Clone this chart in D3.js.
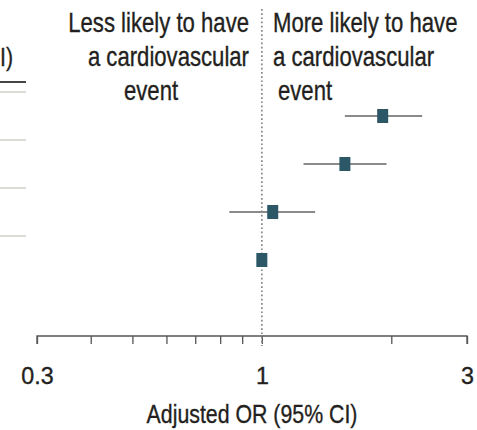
<!DOCTYPE html>
<html><head><meta charset="utf-8">
<script src="https://cdn.jsdelivr.net/npm/d3@7"></script>
<style>
html,body{margin:0;padding:0;background:#fff;}
text{font-family:"Liberation Sans",Arial,sans-serif;fill:#231f20;stroke:#231f20;stroke-width:0.35px;}
</style></head>
<body>
<script>
const categories = ["Group A", "Group B", "Group C", "Reference"];
const orValues = [1.91, 1.56, 1.06, 1.0];
const ciLow = [1.56, 1.25, 0.84, null];
const ciHigh = [2.36, 1.95, 1.33, null];
const tickValues = [0.3, 0.4, 0.5, 0.6, 0.7, 0.8, 0.9, 1, 2, 3];
const tickLabels = ["0.3", "1", "3"];
const leftNote = ["Less likely to have", "a cardiovascular", "event"];
const rightNote = ["More likely to have", "a cardiovascular", "event"];
const axisTitle = "Adjusted OR (95% CI)";
const columnHeader = "OR (95% CI)";

const W = 477, H = 430;
const svg = d3.select("body").append("svg").attr("width", W).attr("height", H);

const x = d3.scaleLog().domain([0.3, 3]).range([37, 467]);
const y = d3.scaleBand().domain(categories).range([92, 284]);
const axisY = 336;

function narrowText(px, py, str, size, anchor, sx) {
  return svg.append("g").attr("transform", `translate(${px},${py}) scale(${sx},1)`)
    .append("text").attr("text-anchor", anchor).style("font-size", size + "px").text(str);
}

// left table fragments
narrowText(13, 66, columnHeader, 25, "end", 0.85);
svg.append("line").attr("x1", 0).attr("x2", 26).attr("y1", 82).attr("y2", 82)
  .attr("stroke", "#444").attr("stroke-width", 2);
svg.selectAll("line.sep").data(categories).join("line").attr("class", "sep")
  .attr("x1", 0).attr("x2", 26)
  .attr("y1", d => y(d)).attr("y2", d => y(d))
  .attr("stroke", "#dcdcd4").attr("stroke-width", 2);

// axis
const axis = d3.axisBottom(x).tickValues(tickValues).tickSize(8).tickPadding(23)
  .tickFormat(d => tickLabels.includes(String(d)) ? String(d) : "");
const ag = svg.append("g").attr("transform", `translate(0,${axisY})`).call(axis);
ag.select(".domain").attr("stroke", "#555").attr("stroke-width", 1.3)
  .attr("d", `M37,8V0H467V8`);
ag.selectAll(".tick line").attr("stroke", "#555").attr("stroke-width", 1.3);
ag.selectAll(".tick text").style("font-size", "24px")
  .style("font-family", "'Liberation Sans',Arial,sans-serif")
  .attr("fill", "#231f20").attr("transform", "scale(0.97,1)");

narrowText(252, 423, axisTitle, 26, "middle", 0.82);

// reference line
svg.append("line").attr("x1", x(1)).attr("x2", x(1)).attr("y1", 9).attr("y2", 346)
  .attr("stroke", "#888").attr("stroke-width", 1.7).attr("stroke-dasharray", "1.7,2.5");

// notes
const lx = [249, 249, 124], la = ["end", "end", "start"];
leftNote.forEach((t, i) => narrowText(lx[i], 32 + i * 34, t, 27, la[i], 0.82));
const rx = [273, 273, 278];
rightNote.forEach((t, i) => narrowText(rx[i], 32 + i * 34, t, 27, "start", 0.82));

// CIs and points
const rows = categories.map((c, i) => ({c, v: orValues[i], lo: ciLow[i], hi: ciHigh[i]}));
svg.selectAll("line.ci").data(rows.filter(d => d.lo != null)).join("line").attr("class", "ci")
  .attr("x1", d => x(d.lo)).attr("x2", d => x(d.hi))
  .attr("y1", d => y(d.c) + y.bandwidth() / 2).attr("y2", d => y(d.c) + y.bandwidth() / 2)
  .attr("stroke", "#8a8a8a").attr("stroke-width", 2);
svg.selectAll("rect.pt").data(rows).join("rect").attr("class", "pt")
  .attr("x", d => x(d.v) - 5.5).attr("width", 11)
  .attr("y", d => y(d.c) + y.bandwidth() / 2 - 7).attr("height", 14)
  .attr("fill", "#2b5766");
</script>
</body></html>
